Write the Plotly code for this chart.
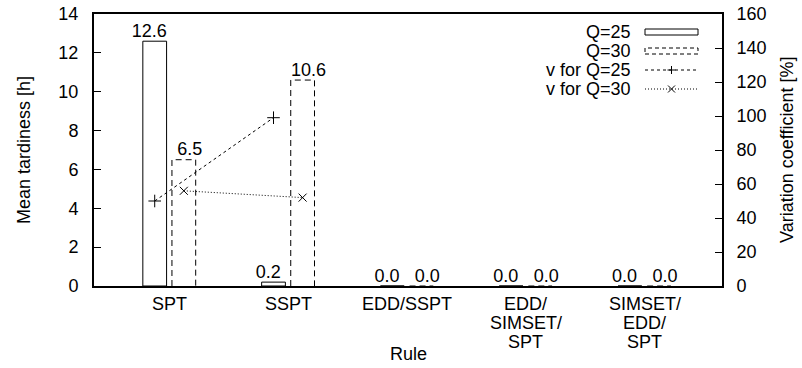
import numpy as np
import plotly.graph_objects as go

rules = ["SPT", "SSPT", "EDD/SSPT", "EDD/<br>SIMSET/<br>SPT", "SIMSET/<br>EDD/<br>SPT"]
tardiness_q25 = [12.6, 0.2, 0.0, 0.0, 0.0]
tardiness_q30 = [6.5, 10.6, 0.0, 0.0, 0.0]
varcoef_q25 = [50, 99]
varcoef_q30 = [56, 52]
y1_ticks = [0, 2, 4, 6, 8, 10, 12, 14]
y2_ticks = [0, 20, 40, 60, 80, 100, 120, 140, 160]

FONT = "Liberation Sans, Arial, Helvetica, sans-serif"
FS = 18
idx = np.arange(len(rules))
OFF25, OFF30, W = -0.125, 0.12, 0.2
LOFF = 0.17

x25 = idx + OFF25
x30 = idx + OFF30

L, R, T, B = 94, 722, 14, 286
def px(x):
    return (x - L) / (R - L)
def py(y):
    return 1 - (y - T) / (B - T)

fig = go.Figure()

# Q=25 bars (solid outline)
fig.add_trace(go.Bar(x=x25, y=tardiness_q25, width=W, name="Q=25",
                     marker=dict(color="rgba(0,0,0,0)", line=dict(color="black", width=1)),
                     showlegend=False))
# Q=30 bars (dashed outline drawn as path)
fig.add_trace(go.Bar(x=x30, y=tardiness_q30, width=W, name="Q=30",
                     marker=dict(color="rgba(0,0,0,0)", line=dict(width=0)),
                     showlegend=False))
ox, oy = [], []
for xc, v in zip(x30, tardiness_q30):
    ox += [xc - W / 2, xc - W / 2, xc + W / 2, xc + W / 2, None]
    oy += [0, v, v, 0, None]
fig.add_trace(go.Scatter(x=ox, y=oy, mode="lines", line=dict(color="black", width=1, dash="6px,4px"),
                         showlegend=False, hoverinfo="skip"))

# value labels
fig.add_trace(go.Scatter(x=idx - LOFF, y=tardiness_q25, mode="text",
                         text=[f"{v:.1f}" for v in tardiness_q25], textposition="top center",
                         textfont=dict(family=FONT, size=FS, color="black"), showlegend=False))
fig.add_trace(go.Scatter(x=idx + LOFF, y=tardiness_q30, mode="text",
                         text=[f"{v:.1f}" for v in tardiness_q30], textposition="top center",
                         textfont=dict(family=FONT, size=FS, color="black"), showlegend=False))

# variation coefficient lines
fig.add_trace(go.Scatter(x=x25[:len(varcoef_q25)], y=varcoef_q25, yaxis="y2", mode="lines+markers",
                         name="v for Q=25",
                         line=dict(color="black", width=1, dash="3px,3px"),
                         marker=dict(symbol="cross-thin", size=9, line=dict(color="black", width=1)),
                         showlegend=False))
fig.add_trace(go.Scatter(x=x30[:len(varcoef_q30)], y=varcoef_q30, yaxis="y2", mode="lines+markers",
                         name="v for Q=30",
                         line=dict(color="black", width=1, dash="1px,2px"),
                         marker=dict(symbol="x-thin", size=8, line=dict(color="black", width=1)),
                         showlegend=False))

# x tick labels, one annotation per text line (gnuplot line spacing)
for i, lab in enumerate(rules):
    for j, part in enumerate(lab.split("<br>")):
        fig.add_annotation(x=idx[i], y=py(304 + 19 * j), xref="x", yref="paper", text=part,
                           showarrow=False, xanchor="center", yanchor="middle",
                           font=dict(family=FONT, size=FS, color="black"))

# manual gnuplot-style legend (paper coords)
rows = [32, 51, 70, 89]
labels = ["Q=25", "Q=30", "v for Q=25", "v for Q=30"]
for yy, lab in zip(rows, labels):
    fig.add_annotation(x=px(633), y=py(yy), xref="paper", yref="paper", text=lab, showarrow=False,
                       xanchor="right", yanchor="middle", font=dict(family=FONT, size=FS, color="black"))
sx0, sx1 = 645, 698
fig.add_shape(type="rect", xref="paper", yref="paper", x0=px(sx0), x1=px(sx1), y0=py(rows[0] + 3), y1=py(rows[0] - 3),
              line=dict(color="black", width=1))
fig.add_shape(type="rect", xref="paper", yref="paper", x0=px(sx0), x1=px(sx1), y0=py(rows[1] + 3), y1=py(rows[1] - 3),
              line=dict(color="black", width=1, dash="4px,3px"))
fig.add_shape(type="line", xref="paper", yref="paper", x0=px(sx0), x1=px(sx1), y0=py(rows[2]), y1=py(rows[2]),
              line=dict(color="black", width=1, dash="3px,3px"))
fig.add_shape(type="line", xref="paper", yref="paper", x0=px(sx0), x1=px(sx1), y0=py(rows[3]), y1=py(rows[3]),
              line=dict(color="black", width=1, dash="1px,2px"))
cx = (sx0 + sx1) / 2
fig.add_shape(type="line", xref="paper", yref="paper", x0=px(cx - 4), x1=px(cx + 4), y0=py(rows[2]), y1=py(rows[2]),
              line=dict(color="black", width=1))
fig.add_shape(type="line", xref="paper", yref="paper", x0=px(cx), x1=px(cx), y0=py(rows[2] - 4), y1=py(rows[2] + 4),
              line=dict(color="black", width=1))
fig.add_shape(type="line", xref="paper", yref="paper", x0=px(cx - 3.5), x1=px(cx + 3.5), y0=py(rows[3] - 3.5), y1=py(rows[3] + 3.5),
              line=dict(color="black", width=1))
fig.add_shape(type="line", xref="paper", yref="paper", x0=px(cx - 3.5), x1=px(cx + 3.5), y0=py(rows[3] + 3.5), y1=py(rows[3] - 3.5),
              line=dict(color="black", width=1))

# axis titles
fig.add_annotation(x=px(408), y=py(354), xref="paper", yref="paper", text="Rule", showarrow=False,
                   xanchor="center", yanchor="middle", font=dict(family=FONT, size=FS, color="black"))
fig.add_annotation(x=px(24), y=py(150), xref="paper", yref="paper", text="Mean tardiness [h]", showarrow=False,
                   textangle=-90, xanchor="center", yanchor="middle", font=dict(family=FONT, size=FS, color="black"))
fig.add_annotation(x=px(787), y=py(150), xref="paper", yref="paper", text="Variation coefficient [%]", showarrow=False,
                   textangle=-90, xanchor="center", yanchor="middle", font=dict(family=FONT, size=FS, color="black"))

fig.update_layout(
    width=802, height=368,
    margin=dict(l=L, r=802 - R, t=T, b=368 - B, autoexpand=False),
    paper_bgcolor="white", plot_bgcolor="white",
    barmode="overlay",
    font=dict(family=FONT, size=FS, color="black"),
    showlegend=False,
    xaxis=dict(range=[-0.636, 4.65], tickvals=list(idx), ticktext=[""] * len(rules), ticks="",
               showline=True, mirror=True, linecolor="black", linewidth=2, showgrid=False, zeroline=False,
               automargin=False),
    yaxis=dict(range=[0, 14], tickvals=y1_ticks, ticks="inside", ticklen=7, tickcolor="black",
               showline=True, linecolor="black", linewidth=2, showgrid=False, zeroline=False,
               ticklabelstandoff=10, automargin=False),
    yaxis2=dict(range=[0, 160], tickvals=y2_ticks, ticks="inside", ticklen=7, tickcolor="black",
                overlaying="y", side="right",
                showline=True, linecolor="black", linewidth=2, showgrid=False, zeroline=False,
                ticklabelstandoff=9, automargin=False),
)

fig.write_html("out.html", config={"displayModeBar": False},
               post_script="document.body.style.margin='0px';document.body.style.padding='0px';")
